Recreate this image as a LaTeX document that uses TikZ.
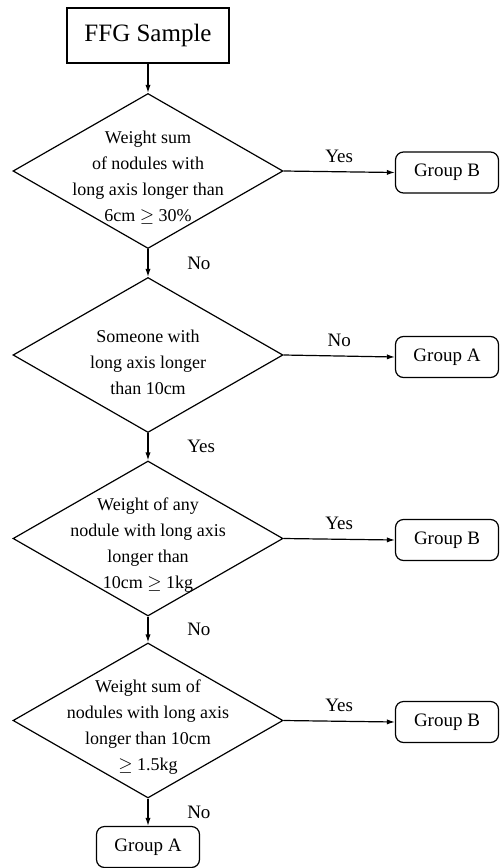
\documentclass[tikz,border=0pt]{standalone}
\usepackage{fontspec}
\setmainfont{Liberation Serif}
\usepackage{tikz}
\usetikzlibrary{shapes,shapes.geometric,arrows,arrows.meta}

\begin{document}
\begin{tikzpicture}[x=0.5pt, y=-0.5pt, line width=0.6pt,
	startbox/.style={draw, font=\fontsize{12.5}{15}\selectfont, minimum width=81pt, minimum height=27.5pt, inner sep=0},
	decision/.style={diamond, draw, minimum width=135pt, minimum height=77.5pt, inner sep=0},
	dtext/.style={font=\fontsize{9}{13}\selectfont, align=center, inner sep=0, yshift=-3.5pt},
	groupbox/.style={draw, rounded corners=4pt, font=\fontsize{9.5}{11}\selectfont, minimum width=51.5pt, minimum height=20.5pt, inner sep=0},
	lbl/.style={font=\fontsize{9.5}{11}\selectfont},
	arr/.style={-{Latex[length=4pt,width=2.6pt]}}
]
\useasboundingbox (0,0) rectangle (499,868);

\node[startbox] (start) at (148,35.5) {FFG Sample};

\node[decision] (q1) at (148,171) {};
\node[dtext] (t1) at (q1) {Weight sum\\of nodules with\\long axis longer than\\6cm $\geq$ 30\%};
\node[decision] (q2) at (148,355) {};
\node[dtext] (t2) at (q2) {Someone with\\long axis longer\\than 10cm};
\node[decision] (q3) at (148,538.5) {};
\node[dtext] (t3) at (q3) {Weight of any\\nodule with long axis\\longer than\\10cm $\geq$ 1kg};
\node[decision] (q4) at (148,720.5) {};
\node[dtext] (t4) at (q4) {Weight sum of\\nodules with long axis\\longer than 10cm\\$\geq$ 1.5kg};

\node[groupbox] (g1) at (447,172.5) {Group B};
\node[groupbox] (g2) at (447,357) {Group A};
\node[groupbox] (g3) at (447,540) {Group B};
\node[groupbox] (g4) at (447,722) {Group B};
\node[groupbox] (g5) at (148,847) {Group A};

\draw[arr] (start) -- (q1);
\draw[arr] (q1) -- node[lbl, right=16pt] {No} (q2);
\draw[arr] (q2) -- node[lbl, right=16pt] {Yes} (q3);
\draw[arr] (q3) -- node[lbl, right=16pt] {No} (q4);
\draw[arr] (q4) -- node[lbl, right=16pt] {No} (g5);

\draw[arr] (q1.east) -- node[lbl, above=1pt] {Yes} (g1.west);
\draw[arr] (q2.east) -- node[lbl, above=1pt] {No} (g2.west);
\draw[arr] (q3.east) -- node[lbl, above=1pt] {Yes} (g3.west);
\draw[arr] (q4.east) -- node[lbl, above=1pt] {Yes} (g4.west);
\end{tikzpicture}
\end{document}
